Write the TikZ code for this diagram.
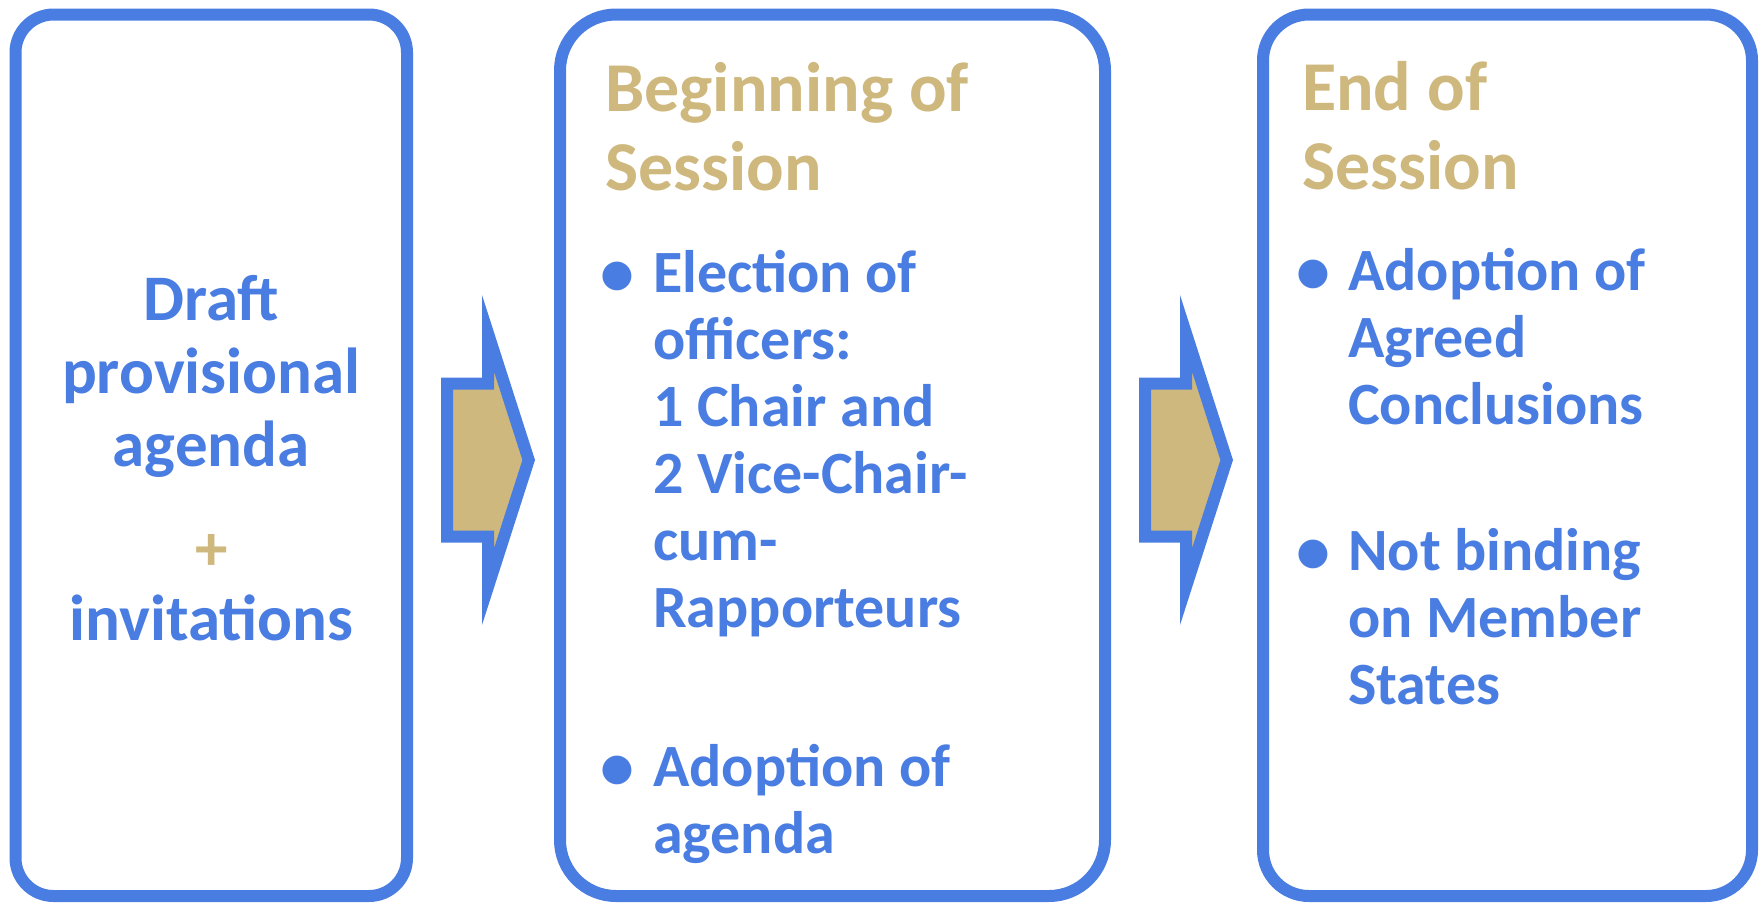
\documentclass[tikz,border=0pt]{standalone}
\usepackage{fontspec}
\setmainfont{Carlito}
\usetikzlibrary{calc,shadows.blur}
\definecolor{stageblue}{RGB}{74,125,225}
\definecolor{sand}{RGB}{206,184,125}

\begin{document}
\begin{tikzpicture}[x=1pt, y=-1pt,
    stage/.style={rectangle, draw=stageblue, line width=12pt, fill=white, inner sep=0pt,
      minimum height=881.5pt,
      blur shadow={shadow xshift=2.5pt, shadow yshift=-2.5pt, shadow blur radius=3pt, shadow opacity=25}},
    flow/.style={draw=stageblue, line width=12pt, fill=sand, miter limit=10,
      blur shadow={shadow xshift=2.5pt, shadow yshift=-2.5pt, shadow blur radius=3pt, shadow opacity=25}},
    stagetitle/.style={anchor=base west, inner sep=0pt, text=sand, font=\bfseries\fontsize{70}{79}\selectfont},
    itemtext/.style={anchor=base west, inner sep=0pt, text=stageblue, font=\bfseries\fontsize{60}{67}\selectfont},
    bulletmark/.style={anchor=base, inner sep=0pt, yshift=-3pt, text=stageblue, font=\bfseries\fontsize{68}{67}\selectfont}]
  \useasboundingbox (0,0) rectangle (1762,911);

  % the three stages
  \node[stage, minimum width=391.5pt, rounded corners=38pt] (b1) at (211.25,455.25) {};
  \node[stage, minimum width=545pt, rounded corners=56pt] (b2) at (832.5,455.25) {};
  \node[stage, minimum width=489pt, rounded corners=46pt] (b3) at (1507.5,455.25) {};

  % block arrows between the stages
  \foreach \src in {b1,b2}
    \draw[flow, shift={($(\src.east)+(34,4.75)$)}] (0,-76.5) -- (41,-76.5) -- (41,-126.7)
      -- (81.7,0) -- (41,126.7) -- (41,76.5) -- (0,76.5) -- cycle;

  % first stage
  \node[anchor=base, inner sep=0pt, text=stageblue, font=\bfseries\fontsize{65}{73}\selectfont]
    (draft) at (211.25,320) {\parbox[t]{380pt}{\centering Draft\\provisional\\agenda}};
  \node[anchor=base, inner sep=0pt, text=sand, font=\bfseries\fontsize{65}{73}\selectfont]
    (plus) at (211.25,570) {+};
  \node[anchor=base, inner sep=0pt, text=stageblue, font=\bfseries\fontsize{65}{73}\selectfont]
    (invit) at (211.25,640) {invitations};

  % beginning of session
  \node[stagetitle] (t2) at (605,111) {\parbox[t]{480pt}{Beginning of\\Session}};
  \node[bulletmark] (d21) at (617,292) {•};
  \node[itemtext] (i21) at (653,292)
    {\parbox[t]{440pt}{Election of\\officers:\\1 Chair and\\2 Vice-Chair-\\cum-\\Rapporteurs}};
  \node[bulletmark] (d22) at (617,786) {•};
  \node[itemtext] (i22) at (653,786) {\parbox[t]{440pt}{Adoption of\\agenda}};

  % end of session
  \node[stagetitle] (t3) at (1302,110) {\parbox[t]{440pt}{End of\\Session}};
  \node[bulletmark] (d31) at (1313,290) {•};
  \node[itemtext] (i31) at (1348,290) {\parbox[t]{390pt}{Adoption of\\Agreed\\Conclusions}};
  \node[bulletmark] (d32) at (1313,570) {•};
  \node[itemtext] (i32) at (1348,570) {\parbox[t]{390pt}{Not binding\\on Member\\States}};
\end{tikzpicture}
\end{document}
